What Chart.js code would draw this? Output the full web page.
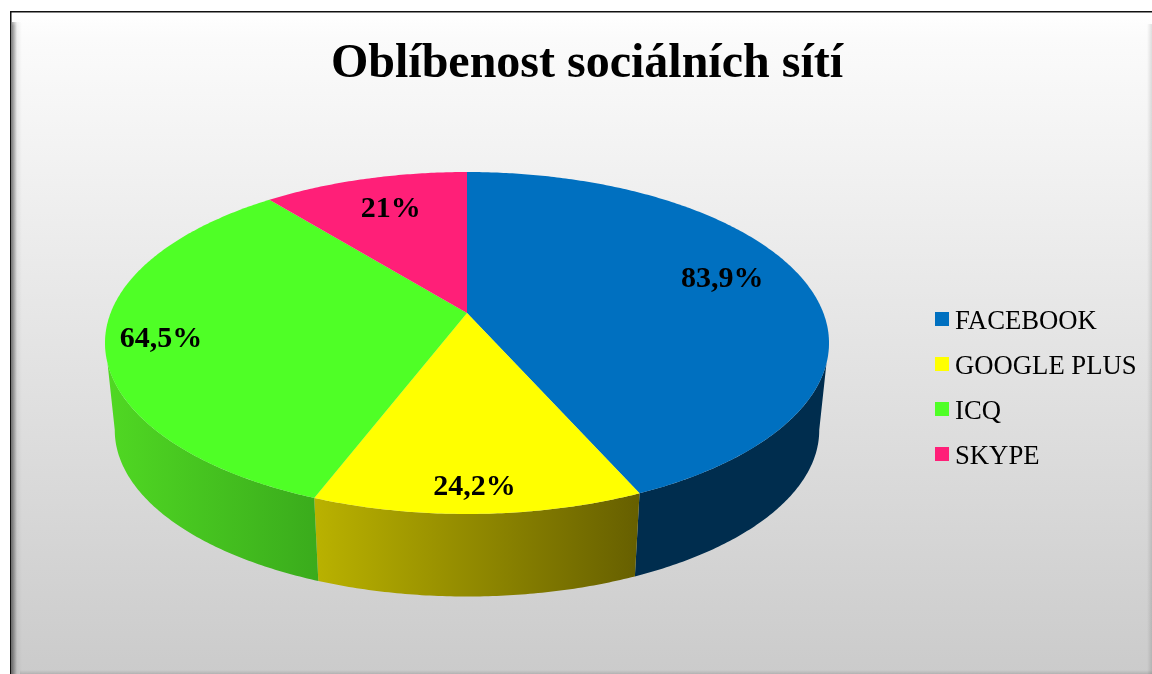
<!DOCTYPE html>
<html lang="cs">
<head>
    <meta charset="UTF-8">
    <title>Oblíbenost sociálních sítí</title>
    <script src="https://cdn.jsdelivr.net/npm/chart.js"></script>
    <style>
        html, body { margin: 0; padding: 0; background: #fff; overflow: hidden; }
        canvas { display: block; }
    </style>
</head>
<body>
    <canvas id="pie" width="1152" height="674"></canvas>

    <script>
        const titleText = 'Oblíbenost sociálních sítí';
        const categories = ['FACEBOOK', 'GOOGLE PLUS', 'ICQ', 'SKYPE'];
        const shares = [83.9, 24.2, 64.5, 21];
        const sliceColors = ['#0070c0', '#ffff00', '#4fff26', '#ff1f78'];
        const serif = '"Liberation Serif", serif';

        // perspective used to lay the flat pie down
        const view = {
            cx: 467, cy: 313, sx: 356.4, sy: 165.7, tilt: 0.1754,
            baseScale: 0.973, baseCy: 401,
            topEdge: 0.287, baseEdge: 0.175
        };
        const wallColors = [
            ['#002d4e', '#002d4e'],
            ['#bab200', '#665f00'],
            ['#50d823', '#3aab1c'],
            ['#a01050', '#a01050']
        ];
        const labelRadius = [0.74, 0.878, 0.849, 0.757];
        const labelNudge = [[4, -9], [-2, 2], [0, 4], [4, 1]];

        function project(angle, radius) {
            const x = Math.cos(angle) * radius;
            const y = Math.sin(angle) * radius;
            const w = 1 - view.tilt * y;
            return { x: view.cx + view.sx * x / w, y: view.cy + view.sy * y / w };
        }

        function projectBase(angle) {
            const p = project(angle, 1);
            return {
                x: view.cx + (p.x - view.cx) * view.baseScale,
                y: view.baseCy + (p.y - view.cy) * view.baseScale
            };
        }

        function angleSteps(from, to) {
            const steps = Math.max(2, Math.ceil(Math.abs(to - from) / 0.01));
            const out = [];
            for (let i = 0; i <= steps; i++) out.push(from + (to - from) * i / steps);
            return out;
        }

        function drawWall(ctx, arc, colors) {
            const topFrom = Math.max(arc.startAngle, Math.asin(view.topEdge));
            const topTo = Math.min(arc.endAngle, Math.PI - Math.asin(view.topEdge));
            const baseFrom = Math.max(arc.startAngle, Math.asin(view.baseEdge));
            const baseTo = Math.min(arc.endAngle, Math.PI - Math.asin(view.baseEdge));
            if (topTo <= topFrom) return;

            const pts = angleSteps(topFrom, topTo).map(a => project(a, 1))
                .concat(angleSteps(baseTo, baseFrom).map(projectBase));
            const xs = pts.map(p => p.x);
            const grad = ctx.createLinearGradient(Math.min(...xs), 0, Math.max(...xs), 0);
            grad.addColorStop(0, colors[0]);
            grad.addColorStop(1, colors[1]);

            ctx.beginPath();
            pts.forEach((p, i) => i ? ctx.lineTo(p.x, p.y) : ctx.moveTo(p.x, p.y));
            ctx.closePath();
            ctx.fillStyle = grad;
            ctx.fill();
        }

        function drawTop(ctx, arc, color) {
            ctx.beginPath();
            ctx.moveTo(view.cx, view.cy);
            angleSteps(arc.startAngle, arc.endAngle).forEach(a => {
                const p = project(a, 1);
                ctx.lineTo(p.x, p.y);
            });
            ctx.closePath();
            ctx.fillStyle = color;
            ctx.fill();
        }

        const framePlugin = {
            id: 'frame',
            beforeDraw(chart) {
                const ctx = chart.ctx;
                const w = chart.width, h = chart.height;
                ctx.save();
                ctx.fillStyle = '#fff';
                ctx.fillRect(0, 0, w, h);

                const bg = ctx.createLinearGradient(0, 12, 0, h);
                bg.addColorStop(0, '#ffffff');
                bg.addColorStop(0.04, '#fbfbfb');
                bg.addColorStop(1, '#cbcbcb');
                ctx.fillStyle = bg;
                ctx.fillRect(11, 12, w - 11, h - 12);

                // soft bevel along the edges
                let g = ctx.createLinearGradient(12, 0, 22, 0);
                g.addColorStop(0, 'rgba(0,0,0,0.45)');
                g.addColorStop(0.5, 'rgba(0,0,0,0.05)');
                g.addColorStop(1, 'rgba(0,0,0,0)');
                ctx.fillStyle = g;
                ctx.fillRect(12, 22, 10, h - 22);

                g = ctx.createLinearGradient(0, 12, 0, 26);
                g.addColorStop(0, 'rgba(255,255,255,1)');
                g.addColorStop(1, 'rgba(255,255,255,0)');
                ctx.fillStyle = g;
                ctx.fillRect(12, 12, w - 12, 14);

                g = ctx.createLinearGradient(1147, 0, 1152, 0);
                g.addColorStop(0, 'rgba(0,0,0,0)');
                g.addColorStop(1, 'rgba(0,0,0,0.12)');
                ctx.fillStyle = g;
                ctx.fillRect(1147, 24, 5, h - 24);

                g = ctx.createLinearGradient(0, 670, 0, 674);
                g.addColorStop(0, 'rgba(0,0,0,0)');
                g.addColorStop(1, 'rgba(0,0,0,0.12)');
                ctx.fillStyle = g;
                ctx.fillRect(20, 670, w - 20, 4);

                ctx.fillStyle = '#111';
                ctx.fillRect(10, 11, w - 10, 1.5);
                ctx.fillRect(10, 11, 1.5, h - 11);
                ctx.restore();
            }
        };

        const pie3dPlugin = {
            id: 'pie3d',
            beforeDatasetsDraw(chart) {
                const ctx = chart.ctx;
                const arcs = chart.getDatasetMeta(0).data;
                ctx.save();
                arcs.forEach((arc, i) => drawWall(ctx, arc, wallColors[i]));
                arcs.forEach((arc, i) => drawTop(ctx, arc, arc.options.backgroundColor));

                // value labels
                ctx.fillStyle = '#000';
                ctx.font = 'bold 30px ' + serif;
                ctx.textAlign = 'center';
                ctx.textBaseline = 'middle';
                arcs.forEach((arc, i) => {
                    const mid = (arc.startAngle + arc.endAngle) / 2;
                    const p = project(mid, labelRadius[i]);
                    ctx.fillText(String(shares[i]).replace('.', ',') + '%', p.x + labelNudge[i][0], p.y + labelNudge[i][1]);
                });

                // legend
                ctx.font = '26.7px ' + serif;
                ctx.textAlign = 'left';
                categories.forEach((name, i) => {
                    const y = 321 + i * 45;
                    ctx.fillStyle = sliceColors[i];
                    ctx.fillRect(935, y - 9, 14, 14);
                    ctx.fillStyle = '#000';
                    ctx.fillText(name, 955, y + 1);
                });
                ctx.restore();
                return false;
            }
        };

        new Chart(document.getElementById('pie').getContext('2d'), {
            type: 'pie',
            data: {
                labels: categories,
                datasets: [{ data: shares, backgroundColor: sliceColors, borderWidth: 0 }]
            },
            options: {
                responsive: false,
                animation: false,
                layout: { padding: { left: 22 } },
                plugins: {
                    legend: { display: false },
                    tooltip: { enabled: false },
                    title: {
                        display: true,
                        text: titleText,
                        color: '#000',
                        font: { family: serif, size: 48, weight: 'bold' },
                        padding: { top: 36, bottom: 10 }
                    }
                }
            },
            plugins: [framePlugin, pie3dPlugin]
        });
    </script>
</body>
</html>
